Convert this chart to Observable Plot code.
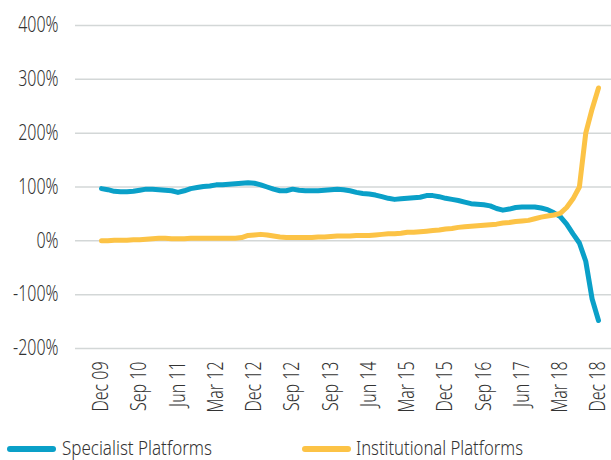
<!DOCTYPE html>
<html><head><meta charset="utf-8">
<script src="https://cdn.jsdelivr.net/npm/d3@7"></script>
<script src="https://cdn.jsdelivr.net/npm/@observablehq/plot@0.6"></script>
<style>
body{margin:0;background:#fff;}
#wrap{position:relative;width:611px;height:460px;overflow:hidden;font-family:"Noto Sans",sans-serif;}
#legend{position:absolute;left:0;top:430px;}
#wrap text{font-weight:300;}
</style></head>
<body><div id="wrap"><div id="chart"></div>
<svg id="legend" width="611" height="30"></svg></div>
<script>
const xLabels = ["Dec 09","Sep 10","Jun 11","Mar 12","Dec 12","Sep 12","Sep 13","Jun 14","Mar 15","Dec 15","Sep 16","Jun 17","Mar 18","Dec 18"];
const pointsPerLabel = 6;
const yTicks = [-200,-100,0,100,200,300,400];
const seriesNames = ["Specialist Platforms","Institutional Platforms"];
const seriesColors = ["#0aa0c8","#fcc346"];
const specialist = [97,95,92,91,91,92,94,96,96,95,94,93,90,93,97,99,101,102,104,104,105,106,107,108,107,104,100,96,93,93,96,94,93,93,93,94,95,96,95,93,90,88,87,85,82,79,77,78,79,80,81,84,84,82,79,77,75,72,69,68,67,65,60,57,59,62,63,63,63,61,58,52,45,31,13,-4,-38,-108,-148];
const institutional = [0,0,1,1,1,2,2,3,4,5,5,4,4,4,5,5,5,5,5,5,5,5,6,10,11,12,11,9,7,6,6,6,6,6,7,7,8,9,9,9,10,10,10,11,12,13,13,14,16,16,17,18,19,20,22,23,25,26,27,28,29,30,31,33,34,36,37,38,41,44,46,48,51,62,78,100,200,245,284];

const data = [];
[specialist, institutional].forEach((arr, s) => arr.forEach((v, i) => data.push({i, v, s: seriesNames[s]})));
const n = specialist.length;
const font = '"Noto Sans",sans-serif';
const squeeze = 0.76;

const chart = Plot.plot({
  width: 611, height: 430,
  marginLeft: 75, marginRight: 0, marginTop: 25, marginBottom: 82,
  style: {fontFamily: font, fontSize: "21px", color: "#333", background: "white", overflow: "visible"},
  x: {type: "linear", domain: [0, n - 1], range: [101, 598]},
  y: {domain: [-200, 400]},
  color: {domain: seriesNames, range: seriesColors},
  marks: [
    Plot.gridY(yTicks, {stroke: "#d3d7d7", strokeOpacity: 1, strokeWidth: 1.5}),
    Plot.axisY(yTicks, {tickSize: 0, tickPadding: 17, tickFormat: d => d + "%", fontSize: 21, label: null}),
    Plot.axisX(d3.range(0, n, pointsPerLabel), {tickSize: 0, tickPadding: 13, tickRotate: -90, tickFormat: i => xLabels[i / pointsPerLabel], fontSize: 21, label: null}),
    Plot.line(data, {x: "i", y: "v", z: "s", stroke: "s", strokeWidth: 5, strokeLinecap: "round", strokeLinejoin: "round"})
  ]
});
document.getElementById("chart").appendChild(chart);

// condense the axis text to mimic the narrow face of the original
d3.select(chart).selectAll('g[aria-label="y-axis tick label"] text, g[aria-label="x-axis tick label"] text')
  .each(function() {
    const len = this.getComputedTextLength();
    this.setAttribute("textLength", (len * squeeze).toFixed(1));
    this.setAttribute("lengthAdjust", "spacingAndGlyphs");
  });

// legend
const leg = d3.select("#legend");
const items = [{x1: 10, x2: 53, tx: 62, w: 150}, {x1: 305, x2: 348, tx: 356, w: 167}];
items.forEach((it, k) => {
  leg.append("line").attr("x1", it.x1).attr("x2", it.x2).attr("y1", 19).attr("y2", 19)
    .attr("stroke", seriesColors[k]).attr("stroke-width", 6).attr("stroke-linecap", "round");
  leg.append("text").attr("x", it.tx).attr("y", 25).attr("fill", "#333")
    .attr("textLength", it.w).attr("lengthAdjust", "spacingAndGlyphs")
    .style("font-family", font).style("font-size", "20px").text(seriesNames[k]);
});
</script>
</body></html>
